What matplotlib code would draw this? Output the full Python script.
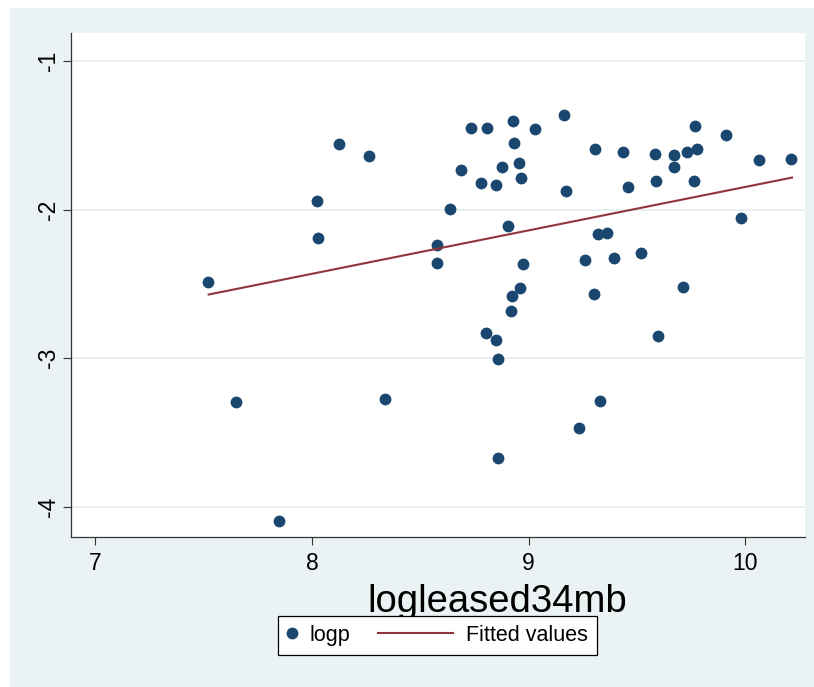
import numpy as np
import matplotlib
matplotlib.use("Agg")
import matplotlib.pyplot as plt
from matplotlib.patches import Rectangle
from matplotlib.legend_handler import HandlerLine2D

plt.rcParams['font.family'] = ['Liberation Sans', 'DejaVu Sans']

# 数据
logleased34mb = [7.519, 7.647, 7.848, 8.022, 8.028, 8.124, 8.262, 8.339, 8.578, 8.575,
                 8.638, 8.686, 8.733, 8.780, 8.806, 8.801, 8.848, 8.850, 8.860, 8.857,
                 8.878, 8.903, 8.918, 8.923, 8.927, 8.931, 8.955, 8.960, 8.964, 8.975,
                 9.028, 9.162, 9.172, 9.234, 9.261, 9.300, 9.308, 9.321, 9.331, 9.363,
                 9.395, 9.437, 9.459, 9.519, 9.583, 9.589, 9.599, 9.672, 9.672, 9.711,
                 9.733, 9.764, 9.768, 9.779, 9.911, 9.981, 10.062, 10.212]
logp = [-2.491, -3.297, -4.098, -1.944, -2.195, -1.558, -1.637, -3.274, -2.240, -2.357,
        -1.998, -1.733, -1.450, -1.820, -1.450, -2.830, -1.832, -2.877, -3.009, -3.671,
        -1.715, -2.108, -2.682, -2.581, -1.406, -1.549, -1.690, -2.530, -1.787, -2.365,
        -1.457, -1.365, -1.874, -3.472, -2.343, -2.570, -1.592, -2.168, -3.287, -2.155,
        -2.325, -1.614, -1.850, -2.291, -1.625, -1.810, -2.850, -1.630, -1.711, -2.520,
        -1.614, -1.805, -1.439, -1.596, -1.500, -2.056, -1.668, -1.659]
# Fitted values（图上读出的两个端点）
fit_x = [7.523, 10.216]
fit_y = [-2.572, -1.785]
x_ticks = [7, 8, 9, 10]
y_ticks = [-4, -3, -2, -1]

navy = '#1A476F'
maroon = '#90353B'
bg = '#EAF2F3'

fig = plt.figure(figsize=(8.14, 6.87), dpi=100, facecolor='white')
# 外层浅色背景
fig.patches.append(Rectangle((10 / 814, 0), 1 - 10 / 814, 1 - 8 / 687,
                             transform=fig.transFigure, facecolor=bg,
                             edgecolor='none', zorder=-5))

ax = fig.add_axes([70.5 / 814, 1 - 537 / 687, (805 - 70.5) / 814, (537 - 33) / 687])
ax.set_facecolor('white')

ax.plot(logleased34mb, logp, 'o', color=navy, markersize=8.5, markeredgewidth=0,
        label='logp', zorder=3)
ax.plot(fit_x, fit_y, '-', color=maroon, lw=1.5, label='Fitted values', zorder=4)

ax.set_xlim(6.885, 10.276)
ax.set_ylim(-4.204, -0.812)
ax.set_xticks(x_ticks)
ax.set_yticks(y_ticks)
ax.set_yticklabels([str(t) for t in y_ticks], rotation=90, va='center')
ax.grid(axis='y', color='#E6EEF1', lw=1.3)
ax.set_axisbelow(True)

for s in ['top', 'right']:
    ax.spines[s].set_visible(False)
for s in ['left', 'bottom']:
    ax.spines[s].set_color('#333333')
    ax.spines[s].set_linewidth(0.9)
ax.tick_params(axis='both', direction='out', length=6, width=0.8, color='#333333',
               labelsize=16.5)
ax.tick_params(axis='x', pad=5)
ax.tick_params(axis='y', pad=1.5)

fig.text(497.5 / 814, 1 - 612 / 687, 'logleased34mb', fontsize=27.5,
         ha='center', va='baseline')


class ShortHandler(HandlerLine2D):
    def legend_artist(self, legend, orig_handle, fontsize, handlebox):
        handlebox.width = 0.45 * fontsize
        return super().legend_artist(legend, orig_handle, fontsize, handlebox)


h1, h2 = ax.get_legend_handles_labels()[0]
leg = fig.legend([h1, h2], ['logp', 'Fitted values'], loc='center',
                 bbox_to_anchor=(437.5 / 814, 1 - 635.5 / 687), ncol=2,
                 fontsize=15.5, handlelength=3.5, handletextpad=0.6,
                 columnspacing=1.3, borderpad=0.4, numpoints=1,
                 fancybox=False, framealpha=1, edgecolor='black',
                 handler_map={h1: ShortHandler()})
leg.get_frame().set_linewidth(0.9)

plt.savefig('out.png', dpi=100, facecolor='white')
